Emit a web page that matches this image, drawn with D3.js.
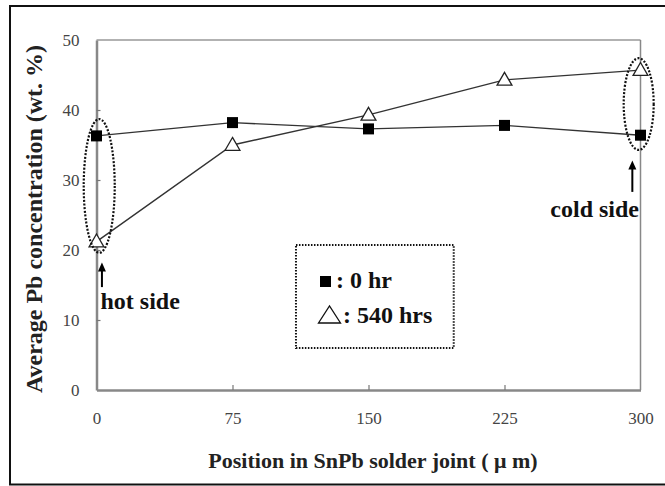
<!DOCTYPE html>
<html>
<head>
<meta charset="utf-8">
<script src="https://cdn.jsdelivr.net/npm/d3@7"></script>
<style>
  body { margin: 0; background: #fff; }
  text { font-family: "Liberation Serif", "Times New Roman", serif; }
</style>
</head>
<body>
<script>
// chart values
var positions = [0, 75, 150, 225, 300];
var pb0hr = [36.3, 38.2, 37.3, 37.8, 36.4];
var pb540hrs = [21.2, 35.0, 39.3, 44.3, 45.7];
var xTicks = [0, 75, 150, 225, 300];
var yTicks = [0, 10, 20, 30, 40, 50];

var width = 665, height = 486;
var margin = {left: 96.5, right: 21, top: 40, bottom: 96};

var svg = d3.select("body").append("svg")
    .attr("width", width).attr("height", height);

// outer frame of the figure (runs off the right edge)
svg.append("rect")
    .attr("x", 10).attr("y", 6)
    .attr("width", 670).attr("height", 478.5)
    .attr("fill", "none").attr("stroke", "#111").attr("stroke-width", 2);

var x = d3.scaleLinear().domain([0, 300]).range([margin.left, width - margin.right - 3.5]);
var y = d3.scaleLinear().domain([0, 50]).range([height - margin.bottom, margin.top]);

// plot frame
svg.append("line").attr("x1", x(0)).attr("x2", x(300)).attr("y1", y(50)).attr("y2", y(50))
    .attr("stroke", "#999").attr("stroke-width", 1.5);
svg.append("line").attr("x1", x(300)).attr("x2", x(300)).attr("y1", y(50)).attr("y2", y(0))
    .attr("stroke", "#888").attr("stroke-width", 1.5);

var yAxis = d3.axisLeft(y).tickValues(yTicks).tickSizeInner(-4).tickSizeOuter(0).tickPadding(17);
var xAxis = d3.axisBottom(x).tickValues(xTicks).tickSizeInner(-5).tickSizeOuter(0).tickPadding(22);

var gy = svg.append("g").attr("transform", "translate(" + x(0) + ",0)").call(yAxis);
var gx = svg.append("g").attr("transform", "translate(0," + y(0) + ")").call(xAxis);

[gx, gy].forEach(function(g){
  g.select(".domain").attr("stroke", "#888").attr("stroke-width", 2.5);
  g.selectAll(".tick line").attr("stroke", "#777").attr("stroke-width", 1.2);
  g.selectAll(".tick text")
    .attr("fill", "#444")
    .style("font-size", "17px")
    .style("font-family", "'Liberation Serif', serif");
});
gx.selectAll(".tick line").filter(function(d){ return d === 0 || d === 300; }).remove();
gy.selectAll(".tick line").filter(function(d){ return d === 0 || d === 50; }).remove();

// axis titles
svg.append("text")
    .attr("x", 373).attr("y", 468)
    .attr("text-anchor", "middle")
    .style("font-size", "22px").style("font-weight", "bold")
    .attr("fill", "#222")
    .text("Position in SnPb solder joint ( \u03bc m)");

svg.append("text")
    .attr("transform", "translate(42,219) rotate(-90)")
    .attr("text-anchor", "middle")
    .style("font-size", "24px").style("font-weight", "bold")
    .attr("fill", "#222")
    .text("Average Pb concentration (wt. %)");

// series lines
var line = d3.line()
    .x(function(d){ return x(d[0]); })
    .y(function(d){ return y(d[1]); });

var s0 = positions.map(function(p, i){ return [p, pb0hr[i]]; });
var s1 = positions.map(function(p, i){ return [p, pb540hrs[i]]; });

svg.append("path").attr("d", line(s0)).attr("fill", "none")
    .attr("stroke", "#333").attr("stroke-width", 1.4);
svg.append("path").attr("d", line(s1)).attr("fill", "none")
    .attr("stroke", "#333").attr("stroke-width", 1.4);

var tri = d3.symbol().type(d3.symbolTriangle).size(95);

svg.selectAll(".tri").data(s1).enter().append("path")
    .attr("class", "tri")
    .attr("d", tri)
    .attr("transform", function(d){ return "translate(" + x(d[0]) + "," + (y(d[1]) + 1) + ")"; })
    .attr("fill", "#fff").attr("stroke", "#222").attr("stroke-width", 1.3);

svg.selectAll(".sq").data(s0).enter().append("rect")
    .attr("class", "sq")
    .attr("x", function(d){ return x(d[0]) - 5.5; })
    .attr("y", function(d){ return y(d[1]) - 5.5; })
    .attr("width", 11).attr("height", 11)
    .attr("fill", "#000");

// dotted ellipses around the end points
var ellipses = [
  {pos: 1.5, top: 38.7, bottom: 19.6, rx: 15.5},
  {pos: 299, top: 47.4, bottom: 34.3, rx: 15}
];
svg.selectAll(".ell").data(ellipses).enter().append("ellipse")
    .attr("cx", function(d){ return x(d.pos); })
    .attr("cy", function(d){ return (y(d.top) + y(d.bottom)) / 2; })
    .attr("rx", function(d){ return d.rx; })
    .attr("ry", function(d){ return (y(d.bottom) - y(d.top)) / 2; })
    .attr("fill", "none").attr("stroke", "#111")
    .attr("stroke-width", 2.2).attr("stroke-dasharray", "2,1.6");

// arrows and notes
var notes = [
  {pos: 3, from: 14.7, to: 18.2, label: "hot side", lx: 100.5, ly: 309, anchor: "start"},
  {pos: 295.5, from: 28.3, to: 32.8, label: "cold side", lx: 639, ly: 217, anchor: "end"}
];
notes.forEach(function(n){
  var ax = x(n.pos), tip = y(n.to);
  svg.append("line")
    .attr("x1", ax).attr("x2", ax)
    .attr("y1", y(n.from)).attr("y2", tip + 6)
    .attr("stroke", "#000").attr("stroke-width", 2);
  svg.append("path")
    .attr("d", "M" + (ax - 4) + "," + (tip + 9) + "L" + ax + "," + tip + "L" + (ax + 4) + "," + (tip + 9) + "Z")
    .attr("fill", "#000");
  svg.append("text")
    .attr("x", n.lx).attr("y", n.ly)
    .attr("text-anchor", n.anchor)
    .style("font-size", "24px").style("font-weight", "bold")
    .attr("fill", "#111")
    .text(n.label);
});

// legend
var lg = svg.append("g");
lg.append("rect")
    .attr("x", x(110)).attr("y", y(20.7))
    .attr("width", x(197) - x(110)).attr("height", y(6) - y(20.7))
    .attr("fill", "none").attr("stroke", "#111")
    .attr("stroke-width", 2).attr("stroke-dasharray", "1.5,1.5");

lg.append("rect").attr("x", 320).attr("y", 276).attr("width", 11).attr("height", 11).attr("fill", "#000");
lg.append("path")
    .attr("d", "M318.5,323 L340.5,323 L329.5,306 Z")
    .attr("fill", "#fff").attr("stroke", "#111").attr("stroke-width", 1.3);

var legendItems = [": 0 hr", ": 540 hrs"];
var legendX = [336, 343];
lg.selectAll(".lt").data(legendItems).enter().append("text")
    .attr("x", function(d, i){ return legendX[i]; })
    .attr("y", function(d, i){ return 288 + i * 35; })
    .style("font-size", "24px").style("font-weight", "bold")
    .attr("fill", "#111")
    .text(function(d){ return d; });
</script>
</body>
</html>
